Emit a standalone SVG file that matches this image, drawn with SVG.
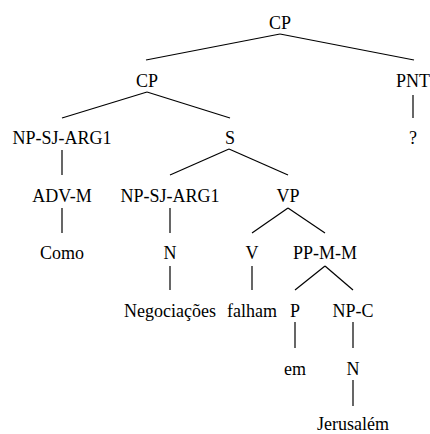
<svg xmlns="http://www.w3.org/2000/svg" width="430" height="434" viewBox="0 0 430 434">
<style>
line{stroke:#000;stroke-width:1.2}
text{font-family:'Liberation Serif','Times New Roman',Times,serif;font-size:18px;text-anchor:middle;fill:#000}
</style>
<rect width="430" height="434" fill="#fff"/>
<g id="connectors">
<line x1="280" y1="34" x2="146" y2="60"/>
<line x1="280" y1="34" x2="414" y2="60"/>
<line x1="147" y1="92" x2="62" y2="118"/>
<line x1="147" y1="92" x2="230" y2="118"/>
<line x1="413" y1="95" x2="413" y2="118"/>
<line x1="62" y1="150" x2="62" y2="175"/>
<line x1="229" y1="149" x2="170" y2="175"/>
<line x1="229" y1="149" x2="288" y2="175"/>
<line x1="62" y1="208" x2="62" y2="233"/>
<line x1="170" y1="208" x2="170" y2="233"/>
<line x1="288" y1="208" x2="252" y2="233"/>
<line x1="288" y1="208" x2="325" y2="233"/>
<line x1="170" y1="266" x2="170" y2="290"/>
<line x1="252" y1="266" x2="252" y2="290"/>
<line x1="325" y1="266" x2="295" y2="290"/>
<line x1="325" y1="266" x2="353" y2="290"/>
<line x1="295" y1="322" x2="295" y2="348"/>
<line x1="353" y1="322" x2="353" y2="348"/>
<line x1="353" y1="380" x2="353" y2="406"/>
</g>
<g id="n1"><text x="280" y="29">CP</text></g>
<g id="n2"><text x="147" y="86.6">CP</text></g>
<g id="n3"><text x="413" y="86.6">PNT</text></g>
<g id="n4"><text x="62" y="144.2">NP-SJ-ARG1</text></g>
<g id="n5"><text x="230" y="144.2">S</text></g>
<g id="n6"><text x="413" y="144.2">?</text></g>
<g id="n7"><text x="62" y="201.8">ADV-M</text></g>
<g id="n8"><text x="170" y="201.8">NP-SJ-ARG1</text></g>
<g id="n9"><text x="288" y="201.8">VP</text></g>
<g id="n10"><text x="62" y="259.4">Como</text></g>
<g id="n11"><text x="170" y="259.4">N</text></g>
<g id="n12"><text x="252" y="259.4">V</text></g>
<g id="n13"><text x="325" y="259.4">PP-M-M</text></g>
<g id="n14"><text x="170" y="317">Negociações</text></g>
<g id="n15"><text x="252" y="317">falham</text></g>
<g id="n16"><text x="295" y="317">P</text></g>
<g id="n17"><text x="353" y="317">NP-C</text></g>
<g id="n18"><text x="295" y="374.6">em</text></g>
<g id="n19"><text x="353" y="374.6">N</text></g>
<g id="n20"><text x="353" y="430">Jerusalém</text></g>
</svg>
